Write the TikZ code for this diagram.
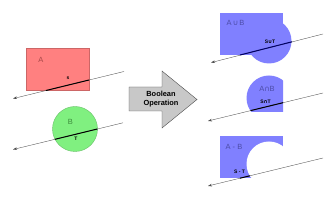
\documentclass[tikz,border=0pt]{standalone}
\usepackage{fontspec}
\setmainfont{Liberation Sans}
\newfontfamily\symfont{DejaVu Sans}
\usetikzlibrary{arrows.meta,positioning,calc}
\definecolor{setA}{HTML}{FF8080}
\definecolor{setAdark}{HTML}{A84848}
\definecolor{setB}{HTML}{80F080}
\definecolor{setBdark}{HTML}{3C8C3C}
\definecolor{result}{HTML}{8080FF}
\definecolor{resultdark}{HTML}{4C4CA8}
\definecolor{opgray}{HTML}{C8C8C8}
\newcommand{\ucup}{{\symfont\char"222A}}
\newcommand{\ucap}{{\symfont\char"2229}}

\begin{document}
\begin{tikzpicture}[
  x=1pt, y=-1pt,
  every node/.style={font=\fontsize{7.5}{8}\selectfont, inner sep=0pt},
  set_a/.style={fill=setA, draw=setA!80!black, line width=0.4pt},
  set_b/.style={fill=setB, draw=setB!80!black, line width=0.4pt},
  set_r/.style={fill=result, draw=none},
  ray/.style={draw=black!70, line width=0.35pt, -{Stealth[length=4pt,width=2.6pt]}},
  seg/.style={draw=black, line width=1pt},
  seg_r/.style={draw=black!60!blue, line width=1pt},
  lbl_seg/.style={font=\bfseries\fontsize{5}{5}\selectfont}
]
\useasboundingbox (0,0) rectangle (330,200);

% ---- input sets: rectangle A and circle B, each cut by a ray
\filldraw[set_a] (26,48) rectangle (89,90.5);
\node[text=setAdark] (la) at (41,60) {A};
\coordinate (sa_from) at (124,71.5);
\coordinate (sa_to) at (13,98.6);
\coordinate (sa_in) at (89,80);
\coordinate (sa_out) at (46,90.5);
\draw[ray] (sa_from) -- (sa_to);
\draw[seg] (sa_in) -- (sa_out);
\node[lbl_seg] (ls) at (68,78.5) {s};

\filldraw[set_b] (75,129) circle[radius=22.5];
\node[text=setBdark] (lb) at (70.5,121.5) {B};
\coordinate (tb_from) at (123,122.8);
\coordinate (tb_to) at (13,149.5);
\coordinate (tb_in) at (97.3,129);
\coordinate (tb_out) at (55,139.3);
\draw[ray] (tb_from) -- (tb_to);
\draw[seg] (tb_in) -- (tb_out);
\node[lbl_seg] (lt) at (76,138.3) {T};

% ---- block arrow
\filldraw[fill=opgray, draw=black!70, line width=0.4pt]
  (129,87) -- (162,87) -- (162,71) -- (197,99.5) -- (162,128) -- (162,111) -- (129,111) -- cycle;
\node[font=\bfseries\fontsize{7.4}{9}\selectfont, align=center] (op) at (161,99) {Boolean\\Operation};

% ---- union
\fill[set_r] (220,13) rectangle (283,55);
\fill[set_r] (269,41) circle[radius=22.5];
\node[text=resultdark] (lu) at (235.5,23) {A\,\ucup\,B};
\coordinate (su_from) at (323,34);
\coordinate (su_to) at (211,62.6);
\coordinate (su_in) at (292,41.8);
\coordinate (su_out) at (240,55);
\draw[ray] (su_from) -- (su_to);
\draw[seg_r] (su_in) -- (su_out);
\node[lbl_seg] (lsu) at (270,42) {S\ucup T};

% ---- intersection
\begin{scope}
  \clip (220,70) rectangle (283,112);
  \fill[set_r] (269,98) circle[radius=22.5];
\end{scope}
\node[text=resultdark] (li) at (267,88.5) {A\ucap B};
\coordinate (si_from) at (323,93);
\coordinate (si_to) at (208,121);
\coordinate (si_in) at (283,102.7);
\coordinate (si_out) at (250.6,110.6);
\draw[ray] (si_from) -- (si_to);
\draw[seg] (si_in) -- (si_out);
\node[lbl_seg] (lsi) at (265.5,102) {S\ucap T};

% ---- difference
\fill[set_r] (220,136) rectangle (283,178);
\fill[white] (269,164) circle[radius=22.5];
\node[text=resultdark] (ld) at (234,147) {A - B};
\coordinate (sd_from) at (323,158);
\coordinate (sd_to) at (208,186);
\coordinate (sd_in) at (249.8,175.8);
\coordinate (sd_out) at (240,178.2);
\draw[ray] (sd_from) -- (sd_to);
\draw[seg] (sd_in) -- (sd_out);
\node[lbl_seg] (lsd) at (239.5,172) {S - T};
\end{tikzpicture}
\end{document}
